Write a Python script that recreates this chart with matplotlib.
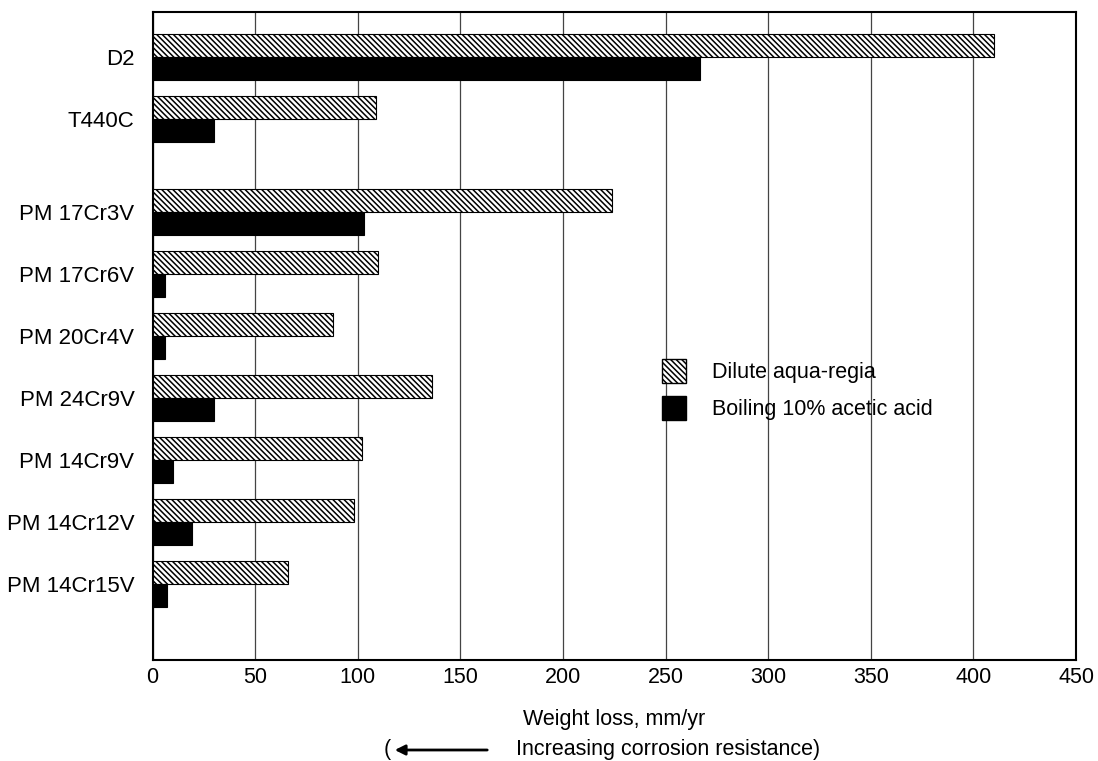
import numpy as np
import matplotlib
matplotlib.use('Agg')
import matplotlib.pyplot as plt
from matplotlib.patches import Patch, FancyArrowPatch

plt.rcParams['font.family'] = ['Liberation Sans', 'DejaVu Sans']
plt.rcParams['hatch.linewidth'] = 1.1

# Datos
aceros = ['D2', 'T440C', 'PM 17Cr3V', 'PM 17Cr6V', 'PM 20Cr4V',
          'PM 24Cr9V', 'PM 14Cr9V', 'PM 14Cr12V', 'PM 14Cr15V']
posiciones = [0, 1, 2.5, 3.5, 4.5, 5.5, 6.5, 7.5, 8.5]
agua_regia = [410, 109, 224, 110, 88, 136, 102, 98, 66]
acido_acetico = [267, 30, 103, 6, 6, 30, 10, 19, 7]
ticks_x = [0, 50, 100, 150, 200, 250, 300, 350, 400, 450]

rayado = '\\' * 6

fig = plt.figure(figsize=(10.98, 7.61), dpi=100)
ax = fig.add_axes([0.1389, 0.1327, 0.8411, 0.8515])

y = np.array(posiciones)
alto = 0.37
ax.barh(y - alto / 2, agua_regia, height=alto, color='white',
        edgecolor='black', hatch=rayado, linewidth=0.8, zorder=3)
ax.barh(y + alto / 2, acido_acetico, height=alto, color='black',
        edgecolor='black', linewidth=0.8, zorder=3)

ax.set_xlim(0, 450)
ax.set_ylim(9.73, -0.73)
ax.set_xticks(ticks_x)
ax.set_xticklabels([str(t) for t in ticks_x], fontsize=15.5)
ax.set_yticks(posiciones)
ax.set_yticklabels(aceros, fontsize=16)
ax.tick_params(axis='x', length=0, pad=5)
ax.tick_params(axis='y', length=0, pad=13)
ax.grid(axis='x', color='#444444', linewidth=0.9, zorder=0)
for s in ax.spines.values():
    s.set_linewidth(1.5)

# Leyenda
handles = [Patch(facecolor='white', edgecolor='black', hatch=rayado, label='Dilute aqua-regia'),
           Patch(facecolor='black', edgecolor='black', label='Boiling 10% acetic acid')]
ax.legend(handles=handles, loc='upper left', bbox_to_anchor=(0.531, 0.494),
          frameon=False, fontsize=15.5, handlelength=1.1, handleheight=1.3,
          handletextpad=1.2, labelspacing=0.6)

# Titulo del eje x y flecha de resistencia a la corrosion
fig.text(614 / 1098, 1 - 720 / 761, 'Weight loss, mm/yr', fontsize=15.5,
         va='center', ha='center')
yb = 1 - 750 / 761
fig.text(384 / 1098, yb, '(', fontsize=15.5, va='center', ha='left')
fig.add_artist(FancyArrowPatch(
    (490 / 1098, yb), (392 / 1098, yb), transform=fig.transFigure,
    arrowstyle='-|>,head_length=6,head_width=3', linewidth=2, color='black'))
fig.text(516 / 1098, yb, 'Increasing corrosion resistance)', fontsize=15.5,
         va='center', ha='left')

fig.savefig('out.png', dpi=100)
